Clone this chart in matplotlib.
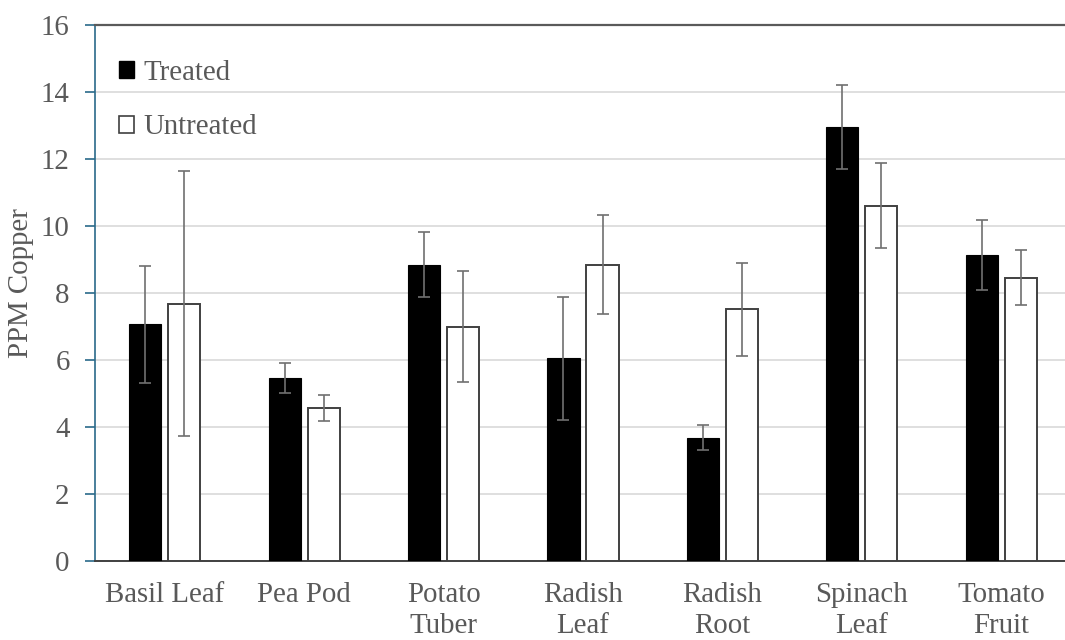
import matplotlib
matplotlib.use("Agg")
import matplotlib.pyplot as plt
import numpy as np
from matplotlib.patches import Patch

categories = ["Basil Leaf", "Pea Pod", "Potato\nTuber", "Radish\nLeaf", "Radish\nRoot", "Spinach\nLeaf", "Tomato\nFruit"]
treated = [7.06, 5.46, 8.85, 6.05, 3.68, 12.95, 9.14]
treated_err = [1.75, 0.44, 0.98, 1.83, 0.37, 1.26, 1.04]
untreated = [7.68, 4.56, 7.00, 8.85, 7.51, 10.60, 8.45]
untreated_err = [3.96, 0.39, 1.65, 1.47, 1.40, 1.27, 0.82]
yticks = [0, 2, 4, 6, 8, 10, 12, 14, 16]

plt.rcParams['font.family'] = ['Liberation Serif', 'DejaVu Serif']

W, H = 1065, 640
fig = plt.figure(figsize=(W/100, H/100), dpi=100)
left_px, right_px, top_px, bot_px = 95, 1071, 25, 561
ax = fig.add_axes([left_px/W, 1 - bot_px/H, (right_px-left_px)/W, (bot_px-top_px)/H])

FS = 20.8
TXT = "#595959"

x = np.arange(len(categories))
bw = 0.23
off = 0.14
err_kw = dict(ecolor="#707070", elinewidth=1.2, capsize=4, capthick=1.2)
ax.bar(x - off, treated, bw, color="black", edgecolor="black", linewidth=0.8,
       yerr=treated_err, error_kw=err_kw, zorder=3, label="Treated")
ax.bar(x + off, untreated, bw, color="white", edgecolor="#404040", linewidth=1.4,
       yerr=untreated_err, error_kw=err_kw, zorder=3, label="Untreated")

ax.set_xlim(-0.5, len(categories) - 0.5)
ax.set_ylim(0, 16)
ax.set_yticks(yticks)
ax.set_xticks(x)
ax.set_xticklabels(categories, linespacing=1.28)
ax.tick_params(axis='x', length=0, pad=15, labelsize=FS, labelcolor=TXT)
ax.tick_params(axis='y', length=7.2, width=1.2, color="#2a6a8a", pad=11, labelsize=FS, labelcolor=TXT)
ax.yaxis.grid(True, color="#d9d9d9", linewidth=1.2, zorder=0)
ax.set_axisbelow(True)

ax.spines['left'].set_color("#2a6a8a")
ax.spines['left'].set_linewidth(1.2)
ax.spines['bottom'].set_color("#404040")
ax.spines['bottom'].set_linewidth(1.4)
ax.spines['top'].set_color("#5a5a5a")
ax.spines['top'].set_linewidth(1.6)
ax.spines['right'].set_visible(False)

ax.set_ylabel("PPM Copper", fontsize=FS, color=TXT)
ax.yaxis.set_label_coords(-(95 - 34) / 976, (561 - 283) / 536)

handles = [Patch(facecolor="black", edgecolor="black", label="Treated"),
           Patch(facecolor="white", edgecolor="#404040", linewidth=1.2, label="Untreated")]
leg = ax.legend(handles=handles, loc="upper left",
                bbox_to_anchor=((119 - 95) / 976, (561 - 60) / 536),
                borderaxespad=0, borderpad=0,
                frameon=False, fontsize=FS, handlelength=0.53, handleheight=0.53,
                handletextpad=0.3, labelspacing=0.98)
for t in leg.get_texts():
    t.set_color(TXT)

fig.savefig("out.png", dpi=100)
